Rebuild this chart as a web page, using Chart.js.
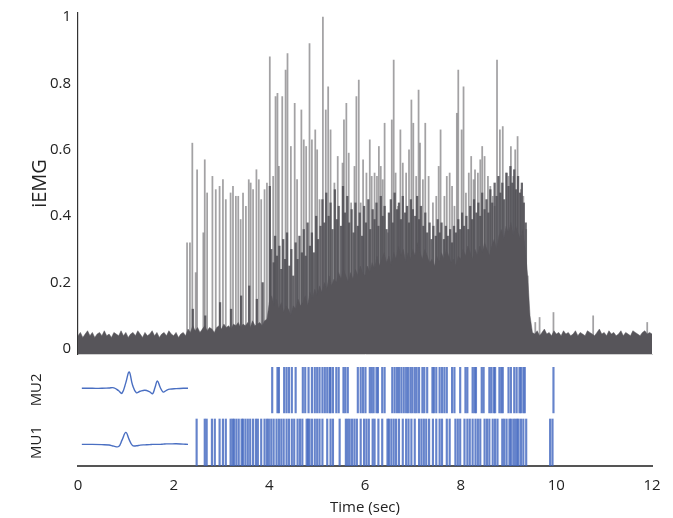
<!DOCTYPE html>
<html>
<head>
<meta charset="utf-8">
<script src="https://cdn.jsdelivr.net/npm/chart.js@4.4.0/dist/chart.umd.min.js"></script>
<style>
  html, body { margin: 0; padding: 0; background: #fff; }
  #wrap { position: relative; width: 673px; height: 518px; }
  #top { position: absolute; left: 0; top: 0; }
  #bot { position: absolute; left: 0; top: 360px; }
</style>
</head>
<body>
<div id="wrap">
  <canvas id="top" width="673" height="360"></canvas>
  <canvas id="bot" width="673" height="158"></canvas>
</div>
<script>
var yTicks = [0, 0.2, 0.4, 0.6, 0.8, 1]
var xTicks = [0, 2, 4, 6, 8, 10, 12]

// dense iEMG body level, one value per 0.05 s from 0 to 12 s
var bodyStep = 0.05
var bodyLevel = [
  0.04,0.05,0.035,0.045,0.055,0.04,0.05,0.035,0.045,0.05,
  0.04,0.055,0.04,0.045,0.035,0.05,0.045,0.04,0.055,0.04,
  0.05,0.035,0.045,0.05,0.04,0.055,0.045,0.035,0.05,0.04,
  0.045,0.055,0.04,0.05,0.035,0.045,0.05,0.04,0.055,0.045,
  0.04,0.05,0.035,0.045,0.05,0.04,
  0.06,0.05,0.07,0.055,0.065,0.05,0.06,0.07,0.055,0.065,
  0.06,0.05,0.065,0.07,0.06,0.075,0.065,0.07,0.06,0.075,
  0.07,0.08,0.065,0.075,0.07,0.08,0.065,0.085,0.07,0.075,
  0.08,0.07,0.085,0.09,
  0.14,0.16,0.13,0.15,0.12,0.14,0.11,0.13,0.12,0.1,0.13,0.12,0.15,0.13,0.14,0.16,0.13,0.17,0.15,0.18,
  0.16,0.19,0.17,0.2,0.18,0.22,0.19,0.21,0.2,0.23,0.21,0.24,0.22,0.2,0.23,0.21,0.24,0.22,0.25,0.23,
  0.22,0.25,0.23,0.26,0.24,0.28,0.25,0.27,0.29,0.26,0.28,0.25,0.29,0.27,0.31,0.28,0.3,0.26,0.29,0.27,
  0.3,0.28,0.32,0.29,0.27,0.3,0.28,0.26,0.27,0.25,0.28,0.26,0.29,0.27,0.3,0.28,0.26,0.27,0.25,0.28,
  0.27,0.3,0.28,0.31,0.29,0.27,0.3,0.28,0.31,0.29,0.32,0.3,0.28,0.31,0.33,0.3,0.34,0.36,0.33,0.37,
  0.35,0.38,0.34,0.37,0.35,0.33,0.36,0.3,0.22,0.1,
  0.05,0.045,0.055,0.04,0.05,0.06,0.045,0.05,0.04,0.055,
  0.045,0.05,0.04,0.055,0.045,0.05,0.04,0.045,0.055,0.04,
  0.05,0.045,0.04,0.055,0.05,0.045,0.04,0.05,0.06,0.045,
  0.05,0.04,0.055,0.045,0.05,0.04,0.045,0.055,0.04,0.05,
  0.045,0.04,0.055,0.05,0.045,0.04,0.05,0.055,0.045,0.05,0.045
]

// darker, overlapping mid-height bursts [time s, height]
var midSpikes = [
  [2.40,0.12],[2.66,0.10],[2.97,0.14],[3.20,0.12],[3.41,0.16],[3.58,0.19],[3.74,0.15],[3.86,0.20],
  [4.01,0.49],[4.04,0.30],[4.09,0.26],[4.12,0.34],[4.16,0.28],[4.21,0.31],[4.25,0.24],[4.29,0.33],
  [4.33,0.27],[4.37,0.35],[4.42,0.25],[4.46,0.30],[4.50,0.22],[4.55,0.32],[4.59,0.27],[4.63,0.34],
  [4.68,0.29],[4.72,0.36],[4.76,0.28],[4.80,0.38],[4.85,0.31],[4.89,0.35],[4.93,0.29],[4.98,0.40],
  [5.02,0.33],[5.07,0.37],[5.11,0.45],[5.15,0.38],[5.19,0.47],[5.24,0.40],[5.28,0.44],[5.32,0.36],
  [5.37,0.48],[5.41,0.39],[5.45,0.43],[5.50,0.37],[5.54,0.49],[5.58,0.41],[5.63,0.46],[5.67,0.38],
  [5.72,0.42],[5.76,0.35],[5.80,0.44],[5.85,0.37],[5.89,0.41],[5.94,0.34],[5.98,0.43],[6.02,0.38],
  [6.07,0.45],[6.11,0.36],[6.16,0.42],[6.20,0.39],[6.24,0.44],[6.28,0.37],[6.33,0.46],[6.37,0.40],
  [6.41,0.43],[6.45,0.36],[6.50,0.41],[6.54,0.45],[6.58,0.38],[6.62,0.47],[6.67,0.42],[6.71,0.44],
  [6.75,0.39],[6.79,0.46],[6.84,0.41],[6.88,0.43],[6.92,0.38],[6.96,0.45],[7.00,0.42],[7.05,0.40],
  [7.09,0.46],[7.13,0.39],[7.17,0.43],[7.22,0.37],[7.26,0.41],[7.30,0.35],[7.35,0.38],[7.39,0.33],
  [7.43,0.37],[7.48,0.34],[7.52,0.39],[7.56,0.35],[7.60,0.38],[7.65,0.33],[7.69,0.37],[7.73,0.34],
  [7.78,0.36],[7.82,0.32],[7.86,0.37],[7.90,0.35],[7.95,0.39],[7.99,0.36],[8.03,0.41],[8.07,0.37],
  [8.12,0.40],[8.16,0.36],[8.20,0.43],[8.24,0.39],[8.28,0.45],[8.33,0.41],[8.37,0.44],[8.41,0.40],
  [8.45,0.47],[8.50,0.42],[8.54,0.45],[8.58,0.41],[8.62,0.48],[8.66,0.44],[8.71,0.50],[8.75,0.46],
  [8.79,0.52],[8.83,0.47],[8.87,0.50],[8.91,0.45],[8.96,0.53],[9.00,0.49],[9.04,0.55],[9.08,0.50],
  [9.12,0.54],[9.16,0.48],[9.20,0.52],[9.24,0.47],[9.28,0.50],[9.32,0.44],[9.36,0.38]
]

// individual tall iEMG spikes (time in s, normalized height)
var spikeTimes = [
  2.28,2.34,2.39,2.46,2.49,2.62,2.65,2.70,2.81,2.88,2.96,3.03,3.09,3.19,3.24,3.30,3.35,3.40,3.45,3.51,
  3.57,3.61,3.66,3.73,3.78,3.83,3.90,3.95,4.01,4.08,4.13,4.17,4.20,4.27,4.34,4.38,4.45,4.53,4.58,4.67,
  4.72,4.77,4.84,4.89,4.96,5.00,5.05,5.12,5.18,5.23,5.28,5.36,5.43,5.53,5.56,5.61,5.66,5.71,5.78,5.82,
  5.87,5.91,5.96,6.03,6.10,6.14,6.20,6.25,6.29,6.33,6.37,6.41,6.48,6.56,6.60,6.64,6.69,6.74,6.79,6.86,
  6.92,6.97,7.01,7.07,7.12,7.15,7.21,7.26,7.33,7.42,7.49,7.54,7.58,7.66,7.71,7.77,7.82,7.87,7.92,7.95,
  8.02,8.06,8.11,8.17,8.22,8.27,8.30,8.36,8.41,8.45,8.50,8.57,8.62,8.67,8.71,8.76,8.82,8.88,8.95,9.00,
  9.05,9.10,9.14,9.19,9.26,9.31,9.37,9.40,9.56,9.65,9.94,10.77,11.9
]
var spikeHeights = [
  0.32,0.32,0.62,0.23,0.54,0.35,0.57,0.47,0.52,0.48,0.49,0.51,0.45,0.47,0.49,0.46,0.46,0.39,0.47,0.43,
  0.51,0.50,0.48,0.54,0.51,0.45,0.48,0.50,0.88,0.52,0.76,0.77,0.55,0.76,0.84,0.89,0.61,0.74,0.51,0.72,
  0.63,0.61,0.92,0.63,0.66,0.60,0.45,1.00,0.72,0.79,0.66,0.50,0.58,0.56,0.69,0.74,0.59,0.44,0.55,0.76,
  0.81,0.44,0.57,0.53,0.63,0.52,0.53,0.52,0.61,0.55,0.51,0.68,0.35,0.69,0.87,0.53,0.43,0.66,0.56,0.53,
  0.60,0.75,0.68,0.52,0.78,0.62,0.51,0.68,0.52,0.44,0.46,0.55,0.66,0.46,0.52,0.53,0.49,0.43,0.71,0.84,
  0.66,0.79,0.47,0.53,0.58,0.51,0.54,0.53,0.57,0.61,0.58,0.52,0.49,0.46,0.43,0.87,0.66,0.67,0.53,0.52,
  0.61,0.52,0.60,0.64,0.48,0.46,0.36,0.22,0.08,0.095,0.11,0.10,0.08
]

// motor unit firing times (s)
var mu1Times = [
  2.48,2.65,2.69,2.80,2.86,2.96,3.03,3.09,3.19,3.23,3.26,3.31,3.36,3.42,3.45,3.50,3.55,3.60,3.66,3.72,
  3.76,3.83,3.90,3.95,3.99,4.04,4.09,4.15,4.20,4.25,4.30,4.36,4.41,4.47,4.52,4.59,4.64,4.69,4.78,4.81,
  4.84,4.89,4.95,5.00,5.05,5.11,5.21,5.28,5.33,5.47,5.60,5.64,5.68,5.73,5.78,5.83,5.91,5.98,6.03,6.08,
  6.16,6.20,6.28,6.36,6.47,6.50,6.55,6.60,6.65,6.71,6.79,6.86,6.91,6.97,7.04,7.13,7.18,7.23,7.28,7.34,
  7.42,7.49,7.56,7.61,7.71,7.77,7.89,7.94,7.99,8.08,8.14,8.19,8.25,8.31,8.36,8.41,8.50,8.55,8.60,8.67,
  8.72,8.77,8.87,8.91,8.96,9.02,9.05,9.10,9.14,9.18,9.21,9.26,9.31,9.37,9.87,9.92
]
var mu2Times = [
  4.06,4.17,4.20,4.31,4.36,4.41,4.47,4.55,4.70,4.75,4.82,4.89,4.95,5.00,5.05,5.11,5.16,5.21,5.26,5.28,
  5.33,5.40,5.45,5.55,5.59,5.64,5.85,5.91,5.96,6.01,6.10,6.14,6.18,6.24,6.27,6.36,6.41,6.57,6.62,6.67,
  6.71,6.76,6.81,6.86,6.90,6.95,6.99,7.04,7.08,7.13,7.20,7.24,7.30,7.41,7.44,7.49,7.56,7.61,7.66,7.71,
  7.82,7.87,7.99,8.10,8.14,8.25,8.29,8.32,8.44,8.48,8.60,8.64,8.69,8.72,8.81,8.85,8.88,9.00,9.05,9.12,
  9.17,9.23,9.26,9.31,9.34,9.94
]

// MU action potential templates (normalized amplitude)
var wfTime = [0.08,0.3,0.5,0.65,0.75,0.85,0.92,1.0,1.07,1.14,1.22,1.3,1.4,1.5,1.56,1.61,1.66,1.72,1.78,1.85,1.92,2.05,2.2,2.3]
var mu2Wave = [0,0,0,0.02,0.03,-0.15,-0.3,0.35,1.0,0.2,-0.27,-0.18,-0.12,-0.22,-0.33,0.05,0.45,0.05,-0.23,-0.12,-0.05,-0.02,0,0]
var mu1Wave = [0,0,-0.02,-0.05,-0.15,-0.18,0.35,1.0,0.4,-0.1,-0.12,-0.06,-0.04,-0.02,0,0,0,0,0.02,0.04,0.04,0.05,0.02,0]

Chart.defaults.font.family = '"Open Sans", sans-serif'
Chart.defaults.color = '#222'

var blue = '#4a6fc2'
var yFloor = -0.015   // plotted area reaches a little under zero

function setTicks(list){
  return function(scale){ scale.ticks = list.map(function(v){ return { value: v } }) }
}

new Chart(document.getElementById('top'), {
  type: 'bar',
  data: {
    datasets: [{
      type: 'line',
      data: bodyLevel.map(function(v, i){ return { x: i * bodyStep, y: v } }),
      fill: 'start',
      backgroundColor: '#57555a',
      borderColor: '#57555a',
      borderWidth: 0.5,
      pointRadius: 0,
      tension: 0,
      order: 0
    }, {
      type: 'bar',
      data: midSpikes.map(function(p){ return { x: p[0], y: p[1] } }),
      backgroundColor: 'rgba(78,76,82,0.85)',
      barThickness: 1.6,
      base: yFloor,
      grouped: false,
      order: 1
    }, {
      type: 'bar',
      data: spikeTimes.map(function(t, i){ return { x: t, y: spikeHeights[i] } }),
      backgroundColor: 'rgba(87,85,90,0.55)',
      barThickness: 1.1,
      base: yFloor,
      grouped: false,
      order: 2
    }]
  },
  options: {
    responsive: false,
    animation: false,
    events: [],
    layout: { padding: { top: 13, bottom: 6, left: 0, right: 21 } },
    plugins: { legend: { display: false }, tooltip: { enabled: false } },
    scales: {
      x: {
        type: 'linear', min: 0, max: 12, offset: false,
        afterFit: function(s){ s.height = 0; s.paddingLeft = 0; s.paddingRight = 0 },
        ticks: { display: false },
        grid: { display: false, drawTicks: false },
        border: { display: true, color: '#cfcfcf', width: 1 }
      },
      y: {
        min: yFloor, max: 1.012,
        afterBuildTicks: setTicks(yTicks),
        afterFit: function(s){ s.width = 78; s.paddingTop = 0; s.paddingBottom = 0 },
        grid: { display: false, drawTicks: false },
        border: { display: true, color: '#333', width: 1.2 },
        ticks: { padding: 7, font: { size: 15 }, color: '#222',
                 callback: function(v){ return String(v) } },
        title: { display: true, text: 'iEMG', font: { size: 20 }, color: '#222', padding: { top: 28, bottom: 0 } }
      }
    }
  }
})

// rotated MU row labels at the left of the spike rows
var muLabels = {
  id: 'muLabels',
  afterDraw: function(chart){
    var ctx = chart.ctx, y = chart.scales.y
    ctx.save()
    ctx.font = '15px "Open Sans"'
    ctx.fillStyle = '#222'
    ctx.textAlign = 'center'
    ctx.textBaseline = 'middle'
    ;[['MU1', 0.5], ['MU2', 1.62]].forEach(function(l){
      ctx.save()
      ctx.translate(chart.chartArea.left - 41, y.getPixelForValue(l[1]))
      ctx.rotate(-Math.PI / 2)
      ctx.fillText(l[0], 0, 0)
      ctx.restore()
    })
    ctx.restore()
  }
}

new Chart(document.getElementById('bot'), {
  type: 'bar',
  data: {
    datasets: [{
      data: mu2Times.map(function(t){ return { x: t, y: [1.13, 2.1] } }),
      backgroundColor: 'rgba(63,100,190,0.8)',
      barThickness: 1.5,
      grouped: false
    }, {
      data: mu1Times.map(function(t){ return { x: t, y: [0, 1] } }),
      backgroundColor: 'rgba(63,100,190,0.8)',
      barThickness: 1.5,
      grouped: false
    }, {
      type: 'line',
      data: wfTime.map(function(t, i){ return { x: t, y: 1.653 + 0.347 * mu2Wave[i] } }),
      borderColor: blue, borderWidth: 1.4, pointRadius: 0, tension: 0.4, fill: false
    }, {
      type: 'line',
      data: wfTime.map(function(t, i){ return { x: t, y: 0.46 + 0.255 * mu1Wave[i] } }),
      borderColor: blue, borderWidth: 1.4, pointRadius: 0, tension: 0.4, fill: false
    }]
  },
  options: {
    responsive: false,
    animation: false,
    events: [],
    layout: { padding: { top: 6, left: 78, right: 21, bottom: 0 } },
    plugins: { legend: { display: false }, tooltip: { enabled: false } },
    scales: {
      x: {
        type: 'linear', min: 0, max: 12, offset: false,
        afterBuildTicks: setTicks(xTicks),
        afterFit: function(s){ s.height = 52 },
        grid: { display: false, drawTicks: false },
        border: { display: true, color: '#555', width: 2 },
        ticks: { padding: 11, font: { size: 15 }, color: '#222' },
        title: { display: true, text: 'Time (sec)', font: { size: 15 }, color: '#222', padding: { top: 0, bottom: 1 } }
      },
      y: { min: 0, max: 2.128, display: false }
    }
  },
  plugins: [muLabels]
})
</script>
</body>
</html>
